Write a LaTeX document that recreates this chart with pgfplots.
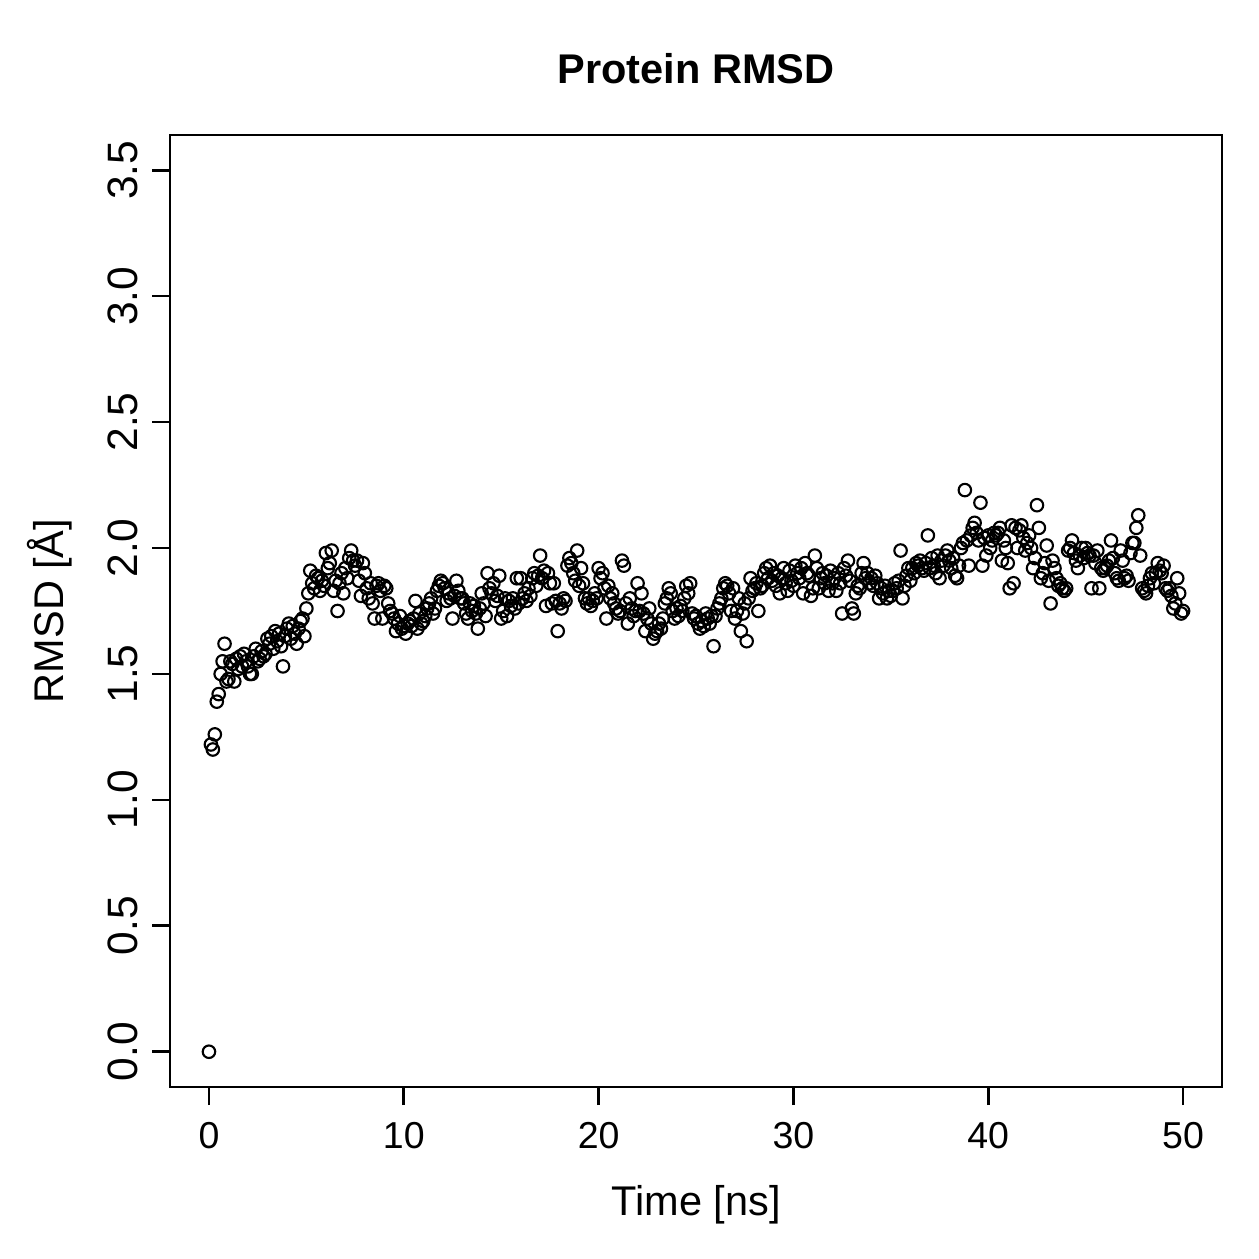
\documentclass[border=0pt]{standalone}
\usepackage{fontspec}
\setmainfont{Liberation Sans}
\usepackage{pgfplots}
\usepackage{pgfplotstable}
\pgfplotsset{compat=1.18}

% RMSD samples every 0.1 ns: column t is the whole ns, c0..c9 the tenths
\pgfplotstableread{
t  c0   c1   c2   c3   c4   c5   c6   c7   c8   c9
0  0.00 1.22 1.20 1.26 1.39 1.42 1.50 1.55 1.62 1.47
1  1.48 1.55 1.54 1.47 1.56 1.52 1.57 1.53 1.58 1.55
2  1.53 1.50 1.50 1.57 1.60 1.55 1.56 1.59 1.57 1.58
3  1.64 1.62 1.65 1.60 1.67 1.63 1.66 1.61 1.53 1.65
4  1.68 1.70 1.64 1.69 1.66 1.62 1.68 1.71 1.72 1.65
5  1.76 1.82 1.91 1.86 1.84 1.89 1.88 1.83 1.87 1.85
6  1.98 1.92 1.94 1.99 1.83 1.87 1.75 1.86 1.90 1.82
7  1.92 1.88 1.96 1.99 1.95 1.93 1.95 1.87 1.81 1.94
8  1.90 1.84 1.80 1.86 1.78 1.72 1.85 1.86 1.83 1.72
9  1.85 1.84 1.78 1.75 1.74 1.72 1.67 1.70 1.73 1.68
10 1.69 1.66 1.70 1.71 1.69 1.72 1.79 1.68 1.74 1.70
11 1.71 1.73 1.76 1.78 1.80 1.74 1.76 1.83 1.85 1.87
12 1.86 1.84 1.79 1.82 1.80 1.72 1.81 1.87 1.83 1.80
13 1.80 1.78 1.74 1.72 1.78 1.75 1.77 1.74 1.68 1.76
14 1.82 1.78 1.73 1.90 1.84 1.82 1.86 1.79 1.81 1.89
15 1.72 1.75 1.80 1.73 1.79 1.77 1.80 1.76 1.88 1.78
16 1.88 1.80 1.82 1.79 1.84 1.81 1.88 1.90 1.85 1.89
17 1.97 1.88 1.91 1.77 1.90 1.86 1.78 1.86 1.79 1.67
18 1.78 1.76 1.80 1.79 1.93 1.96 1.94 1.90 1.87 1.99
19 1.85 1.92 1.86 1.80 1.78 1.80 1.77 1.79 1.82 1.80
20 1.92 1.88 1.90 1.84 1.72 1.85 1.80 1.82 1.78 1.76
21 1.74 1.75 1.95 1.93 1.78 1.70 1.80 1.76 1.73 1.75
22 1.86 1.75 1.82 1.74 1.67 1.72 1.76 1.70 1.64 1.66
23 1.67 1.70 1.68 1.72 1.78 1.80 1.84 1.82 1.75 1.72
24 1.76 1.73 1.77 1.75 1.80 1.85 1.82 1.86 1.74 1.72
25 1.73 1.70 1.68 1.71 1.69 1.74 1.72 1.70 1.73 1.61
26 1.73 1.76 1.78 1.80 1.84 1.86 1.85 1.82 1.75 1.84
27 1.72 1.75 1.80 1.67 1.74 1.78 1.63 1.80 1.88 1.83
28 1.84 1.86 1.75 1.84 1.85 1.90 1.92 1.88 1.93 1.87
29 1.90 1.85 1.89 1.82 1.88 1.92 1.86 1.83 1.91 1.87
30 1.85 1.93 1.90 1.88 1.92 1.82 1.94 1.90 1.89 1.81
31 1.84 1.97 1.92 1.84 1.88 1.90 1.86 1.89 1.83 1.91
32 1.86 1.88 1.83 1.90 1.86 1.74 1.92 1.89 1.95 1.87
33 1.76 1.74 1.82 1.85 1.84 1.90 1.94 1.88 1.90 1.86
34 1.88 1.85 1.89 1.86 1.80 1.84 1.82 1.85 1.80 1.83
35 1.81 1.83 1.86 1.84 1.87 1.99 1.80 1.85 1.89 1.92
36 1.87 1.92 1.90 1.94 1.93 1.95 1.92 1.91 1.94 2.05
37 1.92 1.96 1.93 1.90 1.97 1.88 1.95 1.93 1.97 1.99
38 1.95 1.92 1.96 1.89 1.88 1.93 2.00 2.02 2.23 2.03
39 1.93 2.05 2.08 2.10 2.06 2.03 2.18 1.93 2.04 1.97
40 2.05 2.00 2.03 2.06 2.05 2.06 2.08 1.95 2.03 2.00
41 1.94 1.84 2.09 1.86 2.08 2.00 2.07 2.09 2.04 1.99
42 2.02 2.05 2.00 1.92 1.96 2.17 2.08 1.88 1.90 1.94
43 2.01 1.87 1.78 1.95 1.92 1.88 1.85 1.86 1.84 1.83
44 1.84 1.99 2.00 2.03 1.98 1.95 1.92 1.97 2.00 1.96
45 2.00 1.98 1.97 1.84 1.97 1.94 1.99 1.84 1.92 1.91
46 1.92 1.93 1.95 2.03 1.96 1.90 1.88 1.87 1.99 1.95
47 1.88 1.89 1.87 1.98 2.02 2.02 2.08 2.13 1.97 1.84
48 1.83 1.82 1.85 1.88 1.90 1.86 1.90 1.94 1.91 1.90
49 1.93 1.84 1.83 1.84 1.81 1.76 1.78 1.88 1.82 1.74
50 1.75 nan  nan  nan  nan  nan  nan  nan  nan  nan
}\rmsd

\begin{document}
\begin{tikzpicture}[x=1bp,y=1bp]
\useasboundingbox (0,0) rectangle (503.6,503.6);
\begin{axis}[
  at={(68bp,68.8bp)}, anchor=south west,
  scale only axis,
  width=420.8bp, height=380.8bp,
  xmin=-2, xmax=52, ymin=-0.14, ymax=3.64,
  axis line style={line width=1.05bp},
  every tick/.style={black, line width=1.05bp},
  tick align=outside, major tick length=7.2bp,
  xtick={0,10,20,30,40,50},
  xticklabels={0,10,20,30,40,50},
  ytick={0,0.5,1,1.5,2,2.5,3,3.5},
  yticklabels={0.0,0.5,1.0,1.5,2.0,2.5,3.0,3.5},
  xtick pos=bottom, ytick pos=left,
  xticklabel style={font=\fontsize{15bp}{17bp}\selectfont, anchor=base, yshift=-17.2bp},
  % rotated labels: the local y direction points to the left
  yticklabel style={font=\fontsize{17bp}{19bp}\selectfont, rotate=90, anchor=base, yshift=6.0bp},
  label style={font=\fontsize{16.6bp}{18bp}\selectfont},
  xlabel={Time [ns]},
  xlabel style={at={(axis description cs:0.5,0)}, anchor=base, yshift=-51.2bp},
  ylabel={RMSD [Å]},
  ylabel style={at={(axis description cs:-0.1017,0.5)}, anchor=base},
  title={Protein RMSD},
  title style={font=\fontsize{16.6bp}{18bp}\selectfont\bfseries, at={(axis description cs:0.5,1)}, anchor=base, yshift=14.8bp},
  clip=false,
]
\pgfplotsinvokeforeach{0,...,9}{
  \addplot[only marks, mark=o, mark size=2.5bp,
    mark options={line width=0.85bp, black}]
    table[x expr=\thisrow{t}+#1/10, y=c#1] {\rmsd};
}
\end{axis}
\end{tikzpicture}
\end{document}
